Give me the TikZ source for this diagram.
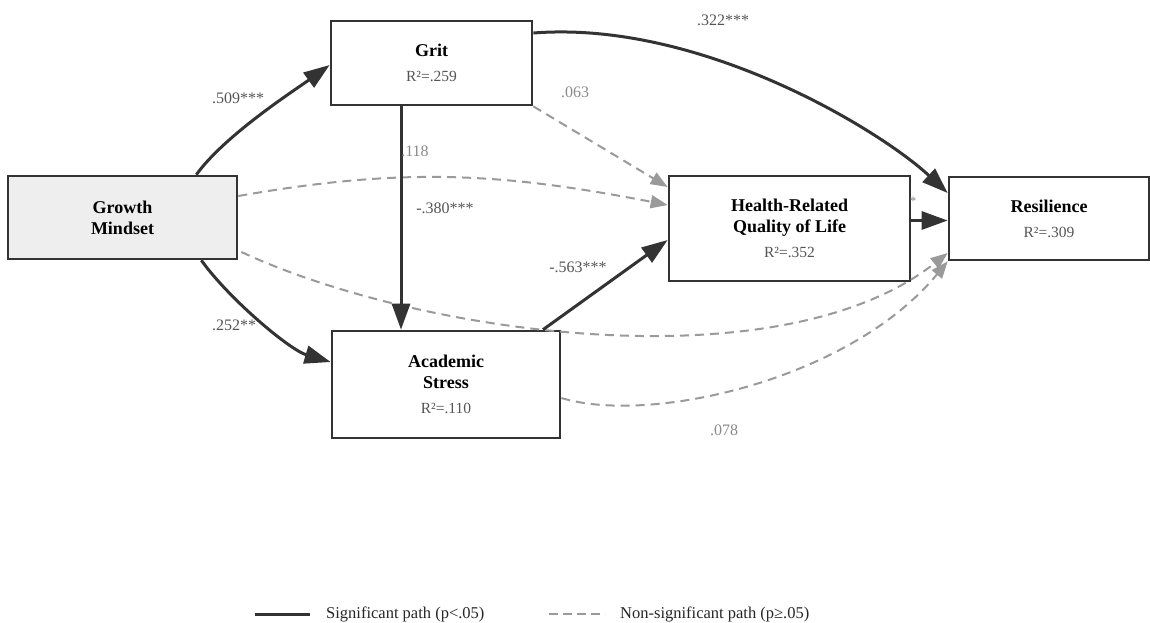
\documentclass[tikz,border=0pt]{standalone}
\usepackage{fontspec}
\setmainfont{Liberation Serif}
\usetikzlibrary{arrows.meta,calc}
\definecolor{dk}{HTML}{333333}
\definecolor{ln}{HTML}{9A9A9A}
\definecolor{lbl}{HTML}{555555}
\definecolor{nslbl}{HTML}{8A8A8A}
\definecolor{gmfill}{HTML}{EEEEEE}
\newcommand\rsqtext[1]{{\mdseries\fontsize{15.5}{18}\selectfont\color{lbl}#1}}
\begin{document}
\begin{tikzpicture}[x=1pt,y=-1pt,
  box/.style={draw=dk, line width=2.7pt, rectangle, inner sep=0pt, align=center,
    font=\fontsize{18}{21}\selectfont\bfseries, text=black},
  sig/.style={draw=dk, line width=3pt, -{Triangle[length=26pt,width=18pt]}, fill=none},
  ns/.style={draw=ln, line width=2pt, dash pattern=on 9pt off 6pt, -{Triangle[length=17pt,width=13pt]}},
  elbl/.style={font=\fontsize{16}{18}\selectfont, text=lbl, inner sep=1pt},
  nlbl/.style={font=\fontsize{16}{18}\selectfont, text=nslbl, inner sep=1pt},
  leg/.style={font=\fontsize{16.5}{18}\selectfont, text=black!85, anchor=west, inner sep=0pt}
]
\fill[white] (0,0) rectangle (1150,622);
\useasboundingbox (0,0) rectangle (1150,622);

% nodes
\node[box, fill=gmfill, minimum width=229pt, minimum height=83pt] (gm) at (122.5,217.5) {Growth\\Mindset};
\node[box, minimum width=201pt, minimum height=84pt] (grit) at (431.5,63) {Grit\\[4pt]\rsqtext{R²=.259}};
\node[box, minimum width=241pt, minimum height=105pt] (hrq) at (789.5,228.5) {Health-Related\\Quality of Life\\[4pt]\rsqtext{R²=.352}};
\node[box, minimum width=200pt, minimum height=83pt] (res) at (1049,218.5) {Resilience\\[4pt]\rsqtext{R²=.309}};
\node[box, minimum width=228pt, minimum height=107pt] (as) at (446,384.5) {Academic\\Stress\\[4pt]\rsqtext{R²=.110}};

% non-significant paths
\draw[ns] (grit.south east) -- ([yshift=41.5pt]hrq.west);
\draw[ns] ([yshift=21.5pt]gm.east) to[out=10,in=169] ([yshift=23.5pt]hrq.west);
\draw[ns] ([xshift=3pt,yshift=-34.5pt]gm.east) .. controls (420,335) and (780,385) .. ([yshift=-34.5pt]res.west);
\draw[ns] ([yshift=-13.5pt]as.east) .. controls (650,425) and (850,380) .. (res.south west);

% significant paths
\draw[sig] ([xshift=-42pt]gm.north east) .. controls (225,135) and (295,90) .. ([yshift=-2pt]grit.west);
\draw[sig] ([xshift=-37pt]gm.south east) .. controls (230,300) and (290,350) .. ([yshift=22.5pt]as.west);
\draw[sig] ([xshift=-30.5pt]grit.south) -- ([xshift=-30.5pt]grit.south |- as.north);
\draw[sig] ([yshift=30pt]grit.east) .. controls (700,20) and (880,130) .. ([yshift=25.5pt]res.west);
\draw[sig] ([xshift=97pt]as.north) -- ([yshift=-11.5pt]hrq.west);
\draw[sig] ([yshift=8pt]hrq.east) -- ([yshift=8pt]hrq.east -| res.west);

% labels
\node[elbl] (l509) at (238,98) {.509***};
\node[elbl] (l252) at (234,325) {.252**};
\node[nlbl] (l118) at (415,151) {.118};
\node[elbl] (l380) at (445,208) {-.380***};
\node[elbl] (l563) at (578,267) {-.563***};
\node[nlbl] (l063) at (575,92) {.063};
\node[elbl] (l322) at (723,20) {.322***};
\node[nlbl] (l078) at (724,430) {.078};
\node[font=\fontsize{13}{13}\selectfont, text=nslbl, inner sep=0pt] (star) at (913,201) {*};

% legend
\coordinate (la) at (255,614);
\coordinate (lb) at (310,614);
\draw[dk, line width=3pt] (la) -- (lb);
\node[leg] (lt1) at (326,614) {Significant path (p<.05)};
\coordinate (lc) at (549,614);
\coordinate (ld) at (605,614);
\draw[ln, line width=2.5pt, dash pattern=on 9pt off 5pt] (lc) -- (ld);
\node[leg] (lt2) at (620,614) {Non-significant path (p≥.05)};
\end{tikzpicture}
\end{document}
